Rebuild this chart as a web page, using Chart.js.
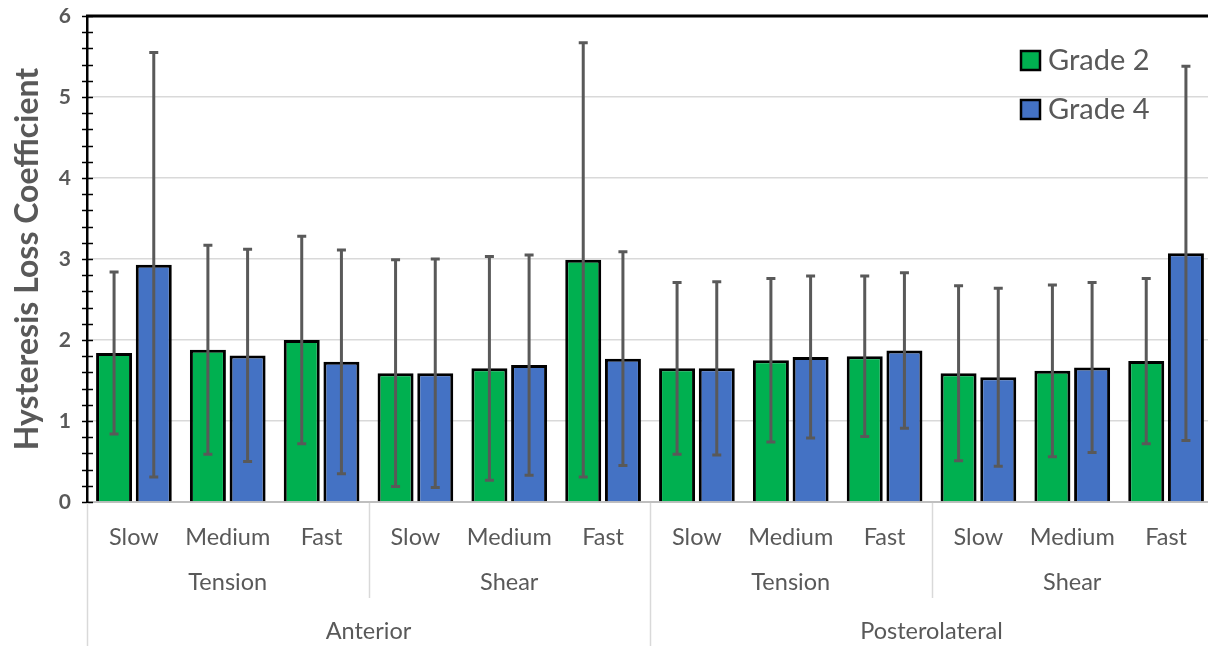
<!DOCTYPE html>
<html>
<head>
<meta charset="utf-8">
<script src="https://cdn.jsdelivr.net/npm/chart.js@4.4.1/dist/chart.umd.min.js"></script>
<style>
  html, body { margin: 0; padding: 0; background: #ffffff; overflow: hidden; }
  #wrap { width: 1214px; height: 646px; position: relative; }
</style>
</head>
<body>
<div id="wrap"><canvas id="chart"></canvas></div>
<script>
// category levels, innermost first
const speeds = ['Slow', 'Medium', 'Fast', 'Slow', 'Medium', 'Fast', 'Slow', 'Medium', 'Fast', 'Slow', 'Medium', 'Fast'];
const loadings = ['Tension', 'Shear', 'Tension', 'Shear'];
const locations = ['Anterior', 'Posterolateral'];

const grade2Mean = [1.84, 1.88, 2.00, 1.59, 1.65, 2.99, 1.65, 1.75, 1.80, 1.59, 1.62, 1.74];
const grade2Sd = [1.00, 1.29, 1.28, 1.40, 1.38, 2.68, 1.06, 1.01, 0.99, 1.08, 1.06, 1.02];
const grade4Mean = [2.93, 1.81, 1.73, 1.59, 1.69, 1.77, 1.65, 1.79, 1.87, 1.54, 1.66, 3.07];
const grade4Sd = [2.62, 1.31, 1.38, 1.41, 1.36, 1.32, 1.07, 1.00, 0.96, 1.10, 1.05, 2.31];

const FONT = 'Lato, "Open Sans", sans-serif';
const TEXT = '#595959';
const GRID = '#d9d9d9';

const errorBars = {
  id: 'errorBars',
  afterDatasetsDraw(chart) {
    const { ctx } = chart;
    const y = chart.scales.y;
    chart.data.datasets.forEach((ds, i) => {
      const meta = chart.getDatasetMeta(i);
      meta.data.forEach((bar, j) => {
        const v = ds.data[j];
        const sd = ds.errors[j];
        const top = y.getPixelForValue(v + sd);
        const bottom = y.getPixelForValue(v - sd);
        ctx.save();
        ctx.strokeStyle = '#595959';
        ctx.lineWidth = 3;
        ctx.beginPath();
        ctx.moveTo(bar.x, top);
        ctx.lineTo(bar.x, bottom);
        ctx.moveTo(bar.x - 4.5, top);
        ctx.lineTo(bar.x + 4.5, top);
        ctx.moveTo(bar.x - 4.5, bottom);
        ctx.lineTo(bar.x + 4.5, bottom);
        ctx.stroke();
        ctx.restore();
      });
    });
  },
};

const frame = {
  id: 'frame',
  afterDraw(chart) {
    const { ctx, chartArea } = chart;
    const x = chart.scales.x;
    const y = chart.scales.y;
    ctx.save();

    // minor + major tick marks across the value axis
    ctx.strokeStyle = '#000000';
    ctx.lineWidth = 1.5;
    for (let v = 0; v <= 6.001; v += 0.2) {
      const py = Math.round(y.getPixelForValue(v)) + 0.5;
      ctx.beginPath();
      ctx.moveTo(chartArea.left - 5, py);
      ctx.lineTo(chartArea.left + 6, py);
      ctx.stroke();
    }

    // top border
    ctx.lineWidth = 3;
    ctx.beginPath();
    ctx.moveTo(chartArea.left - 1, chartArea.top);
    ctx.lineTo(chartArea.right, chartArea.top);
    ctx.stroke();

    // group separators in the category area
    const step = x.getPixelForValue(1) - x.getPixelForValue(0);
    const edge = (i) => x.getPixelForValue(i) - step / 2;
    const base = chartArea.bottom + 1;
    ctx.strokeStyle = GRID;
    ctx.lineWidth = 1.5;
    [[0, 646], [3, 598], [6, 646], [9, 598], [12, 646]].forEach(([i, end]) => {
      const px = Math.round(edge(i)) + 0.5;
      ctx.beginPath();
      ctx.moveTo(px, base);
      ctx.lineTo(px, end);
      ctx.stroke();
    });

    // outer label rows
    ctx.fillStyle = TEXT;
    ctx.font = '23.5px ' + FONT;
    ctx.textAlign = 'center';
    ctx.textBaseline = 'middle';
    loadings.forEach((name, i) => {
      ctx.fillText(name, x.getPixelForValue(i * 3 + 1), 582);
    });
    locations.forEach((name, i) => {
      ctx.fillText(name, (edge(i * 6) + edge(i * 6 + 6)) / 2, 631);
    });

    // legend
    ctx.font = '29px ' + FONT;
    ctx.textAlign = 'left';
    chart.data.datasets.forEach((ds, i) => {
      const top = 51 + i * 49;
      ctx.fillStyle = ds.backgroundColor;
      ctx.fillRect(1021, top, 19, 19);
      ctx.strokeStyle = '#000000';
      ctx.lineWidth = 2.5;
      ctx.strokeRect(1021, top, 19, 19);
      ctx.fillStyle = TEXT;
      ctx.fillText(ds.label, 1048, top + 10);
    });
    ctx.restore();
  },
};

new Chart(document.getElementById('chart'), {
  type: 'bar',
  data: {
    labels: speeds,
    datasets: [
      {
        label: 'Grade 2',
        data: grade2Mean,
        errors: grade2Sd,
        backgroundColor: '#00b050',
        borderColor: '#000000',
        borderWidth: 3,
        borderSkipped: 'bottom',
      },
      {
        label: 'Grade 4',
        data: grade4Mean,
        errors: grade4Sd,
        backgroundColor: '#4472c4',
        borderColor: '#000000',
        borderWidth: 3,
        borderSkipped: 'bottom',
      },
    ],
  },
  options: {
    responsive: true,
    maintainAspectRatio: false,
    animation: false,
    categoryPercentage: 0.846,
    barPercentage: 0.907,
    layout: { padding: { top: 16, right: 1, left: 0, bottom: 0 } },
    plugins: {
      legend: { display: false },
      tooltip: { enabled: false },
    },
    scales: {
      x: {
        grid: { display: false, drawTicks: false },
        border: { color: '#bfbfbf', width: 2 },
        ticks: {
          color: TEXT,
          font: { family: FONT, size: 23.5 },
          padding: 21,
          maxRotation: 0,
          autoSkip: false,
        },
        afterFit(scale) { scale.height = 144; },
      },
      y: {
        min: 0,
        max: 6,
        ticks: {
          stepSize: 1,
          color: TEXT,
          padding: 16,
          font: { family: FONT, size: 21, weight: 'bold' },
        },
        grid: { color: GRID, lineWidth: 1.5, drawTicks: false },
        border: { color: '#000000', width: 2.5 },
        title: {
          display: true,
          text: 'Hysteresis Loss Coefficient',
          color: TEXT,
          font: { family: FONT, size: 32, weight: 'bold' },
          padding: { top: 8, bottom: 0 },
        },
        afterFit(scale) {
          scale.width = 87;
          scale.paddingTop = 0;
          scale.paddingBottom = 0;
        },
      },
    },
  },
  plugins: [errorBars, frame],
});
</script>
</body>
</html>
